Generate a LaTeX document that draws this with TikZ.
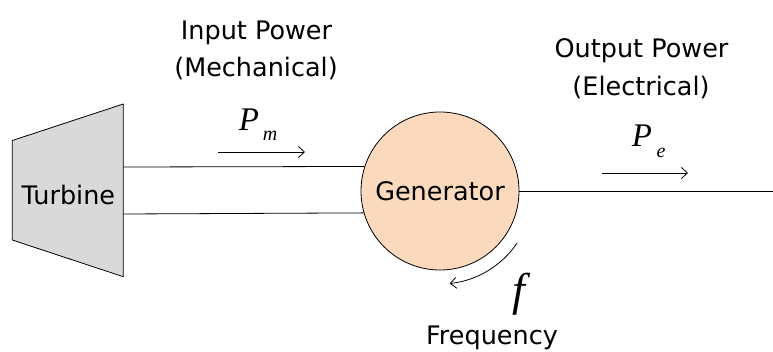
\documentclass[tikz,border=0pt]{standalone}
\usepackage{fontspec}
\setmainfont{DejaVu Sans}
\newfontfamily\tnr{Liberation Serif}
\usetikzlibrary{arrows.meta}
\definecolor{peach}{RGB}{251,217,188}
\definecolor{turbgray}{RGB}{217,217,217}
\tikzset{
  lbl/.style={inner sep=0pt, anchor=base, font=\fontsize{25.5}{30}\selectfont},
  bigsym/.style={inner sep=0pt, anchor=base, font=\tnr\itshape\fontsize{33}{38}\selectfont},
  subsym/.style={inner sep=0pt, anchor=base, font=\tnr\itshape\fontsize{20}{24}\selectfont},
  wire/.style={line width=0.8pt, black},
  flow/.style={line width=0.8pt, black, -{Straight Barb[length=6pt,width=11pt]}},
}
\begin{document}
\begin{tikzpicture}[x=1pt,y=-1pt]
\useasboundingbox (0,0) rectangle (773,351);
% turbine
\coordinate (tlt) at (12.3,140.5);
\coordinate (trt) at (123.3,104);
\coordinate (trb) at (123.3,276.7);
\coordinate (tlb) at (12.3,240);
\draw[wire, fill=turbgray] (tlt) -- (trt) -- (trb) -- (tlb) -- cycle;
\node[lbl] (turb) at (68.4,204) {Turbine};
% generator
\node[circle, draw, line width=0.8pt, fill=peach, minimum size=158pt, inner sep=0pt,
      font=\fontsize{25.5}{30}\selectfont] (gen) at (440,191) {Generator};
% shaft
\coordinate (s1) at (123.3,167);
\coordinate (s2) at (123.3,214);
\draw[wire] (s1) -- (gen.162.3);
\draw[wire] (s2) -- (gen.196.9);
% output line
\coordinate (out) at (773,191);
\draw[wire] (gen.east) -- (out);
% input labels
\node[lbl] (inp) at (256.5,39) {Input Power};
\node[lbl] (mech) at (256,76) {(Mechanical)};
\node[bigsym] (Pm) at (249,130) {P};
\node[subsym] (m) at (270,140) {m};
\coordinate (a1s) at (218,152);
\coordinate (a1e) at (305,152);
\draw[flow] (a1s) -- (a1e);
% output labels
\node[lbl] (outp) at (641.5,57) {Output Power};
\node[lbl] (elec) at (641,95) {(Electrical)};
\node[bigsym] (Pe) at (642,146) {P};
\node[subsym] (e) at (661,157) {e};
\coordinate (a2s) at (602,173);
\coordinate (a2e) at (688,173);
\draw[flow] (a2s) -- (a2e);
% frequency
\draw[flow] ([shift={(-34:93pt)}]gen.center) arc[start angle=-34, end angle=-84, radius=93pt];
\node[inner sep=0pt, anchor=base, font=\tnr\itshape\fontsize{46}{50}\selectfont] (f) at (519,305) {f};
\node[lbl] (freq) at (492,344.5) {Frequency};
\end{tikzpicture}
\end{document}
